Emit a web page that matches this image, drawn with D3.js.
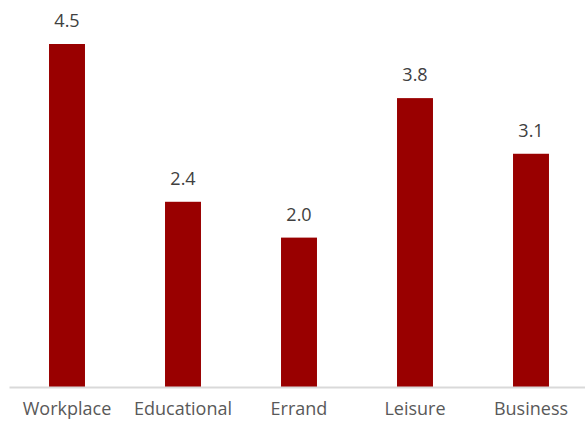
<html lang="en">
    <head>
        <meta charset="utf-8">
        <title>Trips by purpose</title>
        <style>
            body {
                margin: 0;
                background-color: white;
                font-family: "Open Sans", sans-serif;
            }

            .value-label {
                font-size: 18px;
                fill: #404040;
                text-anchor: middle;
            }

            .axis text {
                font-family: "Open Sans", sans-serif;
                font-size: 18px;
                fill: #595959;
            }

            .axis path {
                stroke: #d9d9d9;
                stroke-width: 2;
            }
        </style>
    </head>

    <body>
    </body>

    <script type="text/javascript" src="https://cdnjs.cloudflare.com/ajax/libs/d3/7.8.5/d3.min.js"></script>

    <script type="text/javascript">
        var categories = ["Workplace", "Educational", "Errand", "Leisure", "Business"];
        var values = [4.5, 2.43, 1.96, 3.79, 3.06];

        var fullwidth = 585;
        var fullheight = 421;

        var baseline = 387;

        var svg = d3.select("body")
                    .append("svg")
                    .attr("width", fullwidth)
                    .attr("height", fullheight);

        var xScale = d3.scaleBand()
                        .domain(categories)
                        .range([9, 589])
                        .paddingInner(0.69)
                        .paddingOuter(0.345);

        var yScale = d3.scaleLinear()
                        .domain([0, 4.5])
                        .range([baseline, 44]);

        var data = categories.map(function(c, i) {
            return { category: c, value: values[i] };
        });

        // bars
        svg.selectAll("rect.bar")
            .data(data)
            .enter()
            .append("rect")
            .attr("class", "bar")
            .attr("x", function(d) { return xScale(d.category); })
            .attr("y", function(d) { return yScale(d.value); })
            .attr("width", xScale.bandwidth())
            .attr("height", function(d) { return baseline - yScale(d.value); })
            .attr("fill", "#990000");

        // value labels above bars
        svg.selectAll("text.value-label")
            .data(data)
            .enter()
            .append("text")
            .attr("class", "value-label")
            .attr("x", function(d) { return xScale(d.category) + xScale.bandwidth() / 2; })
            .attr("y", function(d) { return yScale(d.value) - 17; })
            .text(function(d) { return d3.format(".1f")(d.value); });

        var xAxis = d3.axisBottom(xScale)
                        .tickSize(0)
                        .tickSizeOuter(0)
                        .tickPadding(15);

        svg.append("g")
            .attr("class", "x axis")
            .attr("transform", "translate(0," + baseline + ")")
            .call(xAxis);

        svg.select(".x.axis .domain").attr("stroke", "#d9d9d9");
    </script>
</html>
